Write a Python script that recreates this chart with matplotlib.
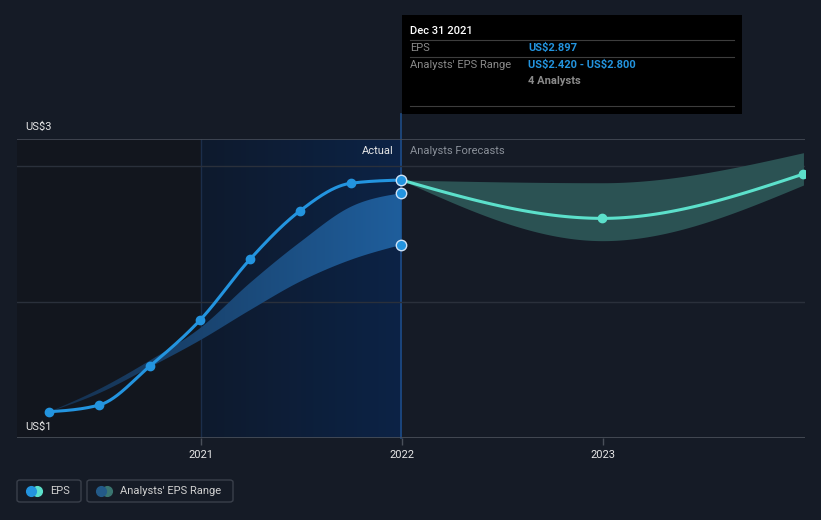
import numpy as np
import pandas as pd
import matplotlib
matplotlib.use("Agg")
import matplotlib.pyplot as plt
from matplotlib.patches import Rectangle, FancyBboxPatch
from matplotlib.lines import Line2D
from matplotlib.colors import LinearSegmentedColormap

plt.rcParams['font.family'] = ['Roboto', 'DejaVu Sans']

# ---------------- data ----------------
past_dates = ["2020-03-31", "2020-06-30", "2020-09-30", "2020-12-31",
              "2021-03-31", "2021-06-30", "2021-09-30", "2021-12-31"]
past_eps = [1.193, 1.243, 1.529, 1.870, 2.314, 2.671, 2.873, 2.897]
past_range_low = [1.193, 1.33, 1.52, 1.72, 1.94, 2.15, 2.31, 2.42]
past_range_high = [1.193, 1.36, 1.57, 1.81, 2.14, 2.44, 2.70, 2.80]

fc_dates = ["2021-12-31", "2022-12-31", "2023-12-31"]
fc_eps = [2.897, 2.615, 2.941]
fc_low = [2.897, 2.451, 2.860]
fc_high = [2.897, 2.877, 3.098]

year_ticks = [2021, 2022, 2023]
y_labels = {3: "US$3", 1: "US$1"}

tooltip_title = "Dec 31 2021"
tooltip_eps = "US$2.897"
tooltip_range = "US$2.420 - US$2.800"
tooltip_analysts = "4 Analysts"

# ---------------- helpers ----------------
def dec_year(dates):
    d = pd.to_datetime(dates)
    start = pd.to_datetime(d.year.astype(str) + "-01-01")
    end = pd.to_datetime((d.year + 1).astype(str) + "-01-01")
    return np.asarray(d.year + (d - start) / (end - start), dtype=float)


def monotone_x(x, y, n=60):
    x = np.asarray(x, float); y = np.asarray(y, float)
    m = len(x)
    h = np.diff(x); s = np.diff(y) / h
    t = np.zeros(m)
    for i in range(1, m - 1):
        h0, h1, s0, s1 = h[i - 1], h[i], s[i - 1], s[i]
        p = (s0 * h1 + s1 * h0) / (h0 + h1)
        t[i] = (np.sign(s0) + np.sign(s1)) * min(abs(s0), abs(s1), 0.5 * abs(p))
    if m > 2:
        t[0] = (3 * s[0] - t[1]) / 2
        t[-1] = (3 * s[-1] - t[-2]) / 2
    else:
        t[0] = t[-1] = s[0]
    xs, ys = [], []
    for i in range(m - 1):
        u = np.linspace(0, 1, n, endpoint=(i == m - 2))
        hh = h[i]
        h00 = 2 * u**3 - 3 * u**2 + 1
        h10 = u**3 - 2 * u**2 + u
        h01 = -2 * u**3 + 3 * u**2
        h11 = u**3 - u**2
        xs.append(x[i] + u * hh)
        ys.append(h00 * y[i] + h10 * hh * t[i] + h01 * y[i + 1] + h11 * hh * t[i + 1])
    return np.concatenate(xs), np.concatenate(ys)


W, H = 821, 520
def fx(px): return px / W
def fy(py): return 1 - py / H

BG = "#151b26"
BLUE = "#2394df"
TEAL = "#5ce0cb"

px = dec_year(past_dates)
fxs = dec_year(fc_dates)

fig = plt.figure(figsize=(W / 100, H / 100), dpi=100, facecolor=BG)
ax = fig.add_axes([fx(17), fy(438), fx(805) - fx(17), fy(139) - fy(438)])
ax.set_facecolor(BG)

x0 = 2021 - 184 / 201.0
x1 = 2022 + 403 / 201.0
y0, y1 = 1.0, 1 + 299 / 136.0
ax.set_xlim(x0, x1)
ax.set_ylim(y0, y1)

# background regions
ax.axvspan(x0, 2021, color="#12161e", zorder=0, lw=0)
grad = np.linspace(0, 1, 256).reshape(1, -1)
cm_bg = LinearSegmentedColormap.from_list("bg", ["#0e1a2d", "#0c2346"])
ax.imshow(grad, extent=[2021, px[-1], y0, y1], aspect="auto", cmap=cm_bg,
          zorder=0.5, interpolation="bilinear")
ax.axvline(2021, color="#1b2e4a", lw=1, zorder=1)
ax.plot([px[-1], px[-1]], [y0, y1 + 25 / 136.0], color="#1e4c86", lw=1.2,
        zorder=1, clip_on=False)

# gridlines
for v in [2.0, 3.0]:
    ax.axhline(v, color="#2a303b", lw=1, zorder=1)
ax.axhline(y1, color="#464c57", lw=1.2, zorder=1)
ax.axhline(y0, color="#4a505a", lw=1.2, zorder=1)

# past range band with gradient
bx, blo = monotone_x(px, past_range_low)
_, bhi = monotone_x(px, past_range_high)
poly = ax.fill_between(bx, blo, bhi, color="none", lw=0)
cm_band = LinearSegmentedColormap.from_list("band", ["#15304e", "#1f5e9c"])
im = ax.imshow(grad, extent=[px[0], px[-1], 1.0, 3.0], aspect="auto",
               cmap=cm_band, zorder=2, interpolation="bilinear")
im.set_clip_path(poly.get_paths()[0], transform=ax.transData)

# forecast band
fbx, flo = monotone_x(fxs, fc_low)
_, fhi = monotone_x(fxs, fc_high)
ax.fill_between(fbx, flo, fhi, color="#2b5253", lw=0, zorder=2)

# EPS lines
lx, ly = monotone_x(px, past_eps)
ax.plot(lx, ly, color=BLUE, lw=2.2, zorder=4, solid_capstyle="round")
ax.plot(px[:-1], past_eps[:-1], "o", color=BLUE, ms=6, zorder=5)
fx_, fy_ = monotone_x(fxs, fc_eps)
ax.plot(fx_, fy_, color=TEAL, lw=2.2, zorder=4)
ax.plot(fxs[1:], fc_eps[1:], "o", color=TEAL, ms=6, zorder=5, clip_on=True)

# highlighted points at Dec 2021
ax.plot([px[-1]] * 3, [past_eps[-1], past_range_high[-1], past_range_low[-1]], "o",
        color=BLUE, mec="#cfe3f7", mew=1.0, ms=7.5, zorder=6, clip_on=False)

ax.set_xticks(year_ticks)
ax.set_xticklabels([str(y) for y in year_ticks])
ax.tick_params(axis="x", colors="#4a505a", length=5, width=1, labelcolor="#e6e6e6",
               labelsize=8, pad=4)
ax.set_yticks([])
for s in ax.spines.values():
    s.set_visible(False)

def T(x, y, s, **kw):
    return fig.text(fx(x), fy(y), s, va="center", parse_math=False, **kw)

# y labels
T(25, 127, y_labels[3], color="#e6e6e6", fontsize=8, ha="left")
T(25, 427, y_labels[1], color="#e6e6e6", fontsize=8, ha="left")

# Actual / forecast labels
T(394, 151, "Actual", color="#e6e6e6", fontsize=8, ha="right")
T(410, 151, "Analysts Forecasts", color="#8a9099", fontsize=8, ha="left")

# tooltip
fig.add_artist(Rectangle((fx(402), fy(114)), fx(742) - fx(402), fy(15) - fy(114),
                         transform=fig.transFigure, facecolor="#000000", edgecolor="none", zorder=10))
for yy in [40, 57, 106]:
    fig.add_artist(Line2D([fx(410), fx(734)], [fy(yy), fy(yy)], transform=fig.transFigure,
                          color="#3d3d3d", lw=0.8, zorder=11))
T(410, 31, tooltip_title, color="#ffffff", fontsize=8, ha="left", zorder=12, fontweight="medium")
T(410, 48, "EPS", color="#8a8a8a", fontsize=8, ha="left", zorder=12)
T(528, 48, tooltip_eps, color=BLUE, fontsize=8, ha="left", zorder=12, fontweight="bold")
T(410, 65, "Analysts' EPS Range", color="#8a8a8a", fontsize=8, ha="left", zorder=12)
T(528, 65, tooltip_range, color=BLUE, fontsize=8, ha="left", zorder=12, fontweight="bold")
T(528, 81, tooltip_analysts, color="#8a8a8a", fontsize=8, ha="left", zorder=12, fontweight="bold")

# legend
def legend_box(x_l, x_r, label, c1, c2, tx):
    fig.add_artist(FancyBboxPatch((fx(x_l), fy(502)), fx(x_r) - fx(x_l), fy(480) - fy(502),
                                  boxstyle="round,pad=0,rounding_size=0.004",
                                  transform=fig.transFigure, facecolor="none",
                                  edgecolor="#3a404b", lw=1))
    fig.add_artist(Line2D([fx(tx - 13)], [fy(491)], marker="o", ms=7, color=c2,
                          transform=fig.transFigure, lw=0))
    fig.add_artist(Line2D([fx(tx - 19)], [fy(491)], marker="o", ms=7, color=c1,
                          transform=fig.transFigure, lw=0))
    T(tx, 491, label, color="#d0d0d0", fontsize=8, ha="left")

legend_box(17, 81, "EPS", BLUE, TEAL, 50)
legend_box(87, 233, "Analysts' EPS Range", "#235a88", "#3a7570", 120)

fig.savefig("out.png", dpi=100, facecolor=BG)
